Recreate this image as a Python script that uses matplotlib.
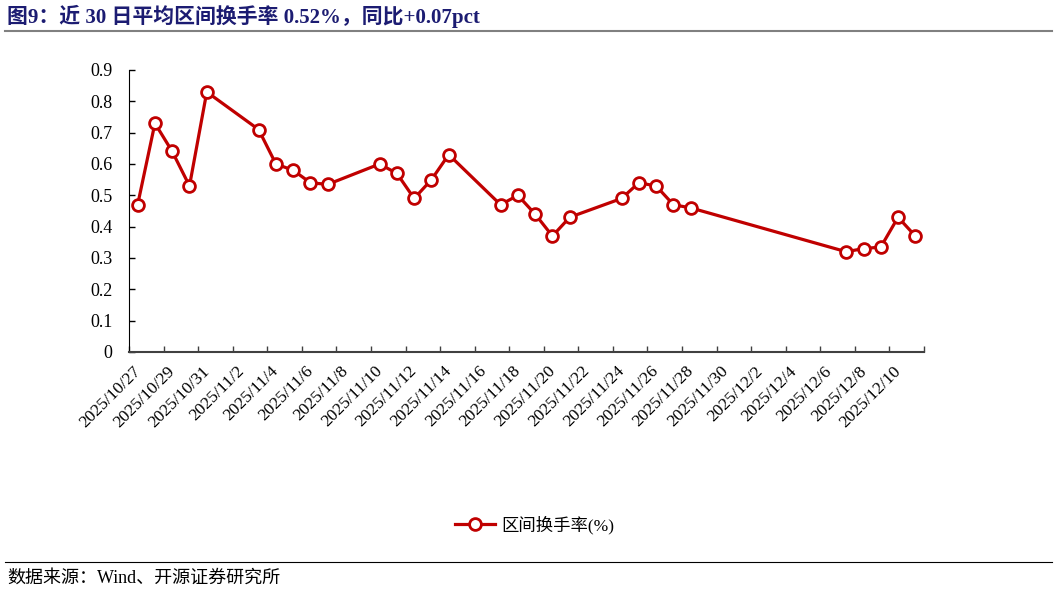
import matplotlib
matplotlib.use("Agg")
import matplotlib.pyplot as plt
import matplotlib.dates as mdates
import pandas as pd
import numpy as np

# data
dates = ["2025-10-27", "2025-10-28", "2025-10-29", "2025-10-30", "2025-10-31",
         "2025-11-03", "2025-11-04", "2025-11-05", "2025-11-06", "2025-11-07",
         "2025-11-10", "2025-11-11", "2025-11-12", "2025-11-13", "2025-11-14",
         "2025-11-17", "2025-11-18", "2025-11-19", "2025-11-20", "2025-11-21",
         "2025-11-24", "2025-11-25", "2025-11-26", "2025-11-27", "2025-11-28",
         "2025-12-07", "2025-12-08", "2025-12-09", "2025-12-10", "2025-12-11"]
turnover = [0.47, 0.73, 0.64, 0.53, 0.83,
            0.71, 0.60, 0.58, 0.54, 0.535,
            0.60, 0.57, 0.49, 0.55, 0.63,
            0.47, 0.50, 0.44, 0.37, 0.43,
            0.49, 0.54, 0.53, 0.47, 0.46,
            0.32, 0.33, 0.335, 0.43, 0.37]
series_name = "区间换手率(%)"
title = "图9：近 30 日平均区间换手率 0.52%，同比+0.07pct"
source = "数据来源：Wind、开源证券研究所"

serif = ["Liberation Serif", "Noto Sans CJK SC"]
plt.rcParams["font.family"] = serif

x = pd.to_datetime(dates)
red = "#C00000"

fig = plt.figure(figsize=(10.57, 5.92), dpi=100)
ax = fig.add_axes([129 / 1057, 1 - 352 / 592, (924 - 129) / 1057, (352 - 70) / 592])

ax.plot(x, turnover, color=red, linewidth=2.3, marker="o", markersize=8.5,
        markerfacecolor="white", markeredgecolor=red, markeredgewidth=2.0,
        label=series_name, zorder=3)

start = pd.Timestamp("2025-10-27")
end = pd.Timestamp("2025-12-11")
ax.set_xlim(mdates.date2num(start) - 0.5, mdates.date2num(end) + 0.5)
ax.set_ylim(0, 0.9)

# labels sit a touch left of the day they name, as in the original
label_days = pd.date_range(start, end, freq="2D")
ax.set_xticks(mdates.date2num(label_days) - 0.3)
ax.set_xticklabels([f"{d.year}/{d.month}/{d.day}" for d in label_days],
                   rotation=45, ha="right", va="top", rotation_mode="anchor",
                   fontsize=12.5)
edges = np.arange(mdates.date2num(start) - 0.5, mdates.date2num(end) + 0.6, 2)
ax.set_xticks(edges, minor=True)
ax.tick_params(axis="x", which="major", length=0, pad=8)
ax.tick_params(axis="x", which="minor", length=4, direction="in", width=1, color="#404040")

ax.set_yticks(np.arange(0, 0.91, 0.1))
ax.set_yticklabels(["0"] + [f"{v:.1f}" for v in np.arange(0.1, 0.91, 0.1)], fontsize=13)
ax.tick_params(axis="y", length=4, direction="in", width=1, pad=12)

for s in ["top", "right"]:
    ax.spines[s].set_visible(False)
ax.spines["left"].set_color("black")
ax.spines["bottom"].set_color("#404040")
ax.spines["bottom"].set_linewidth(1.5)

leg = fig.legend(loc="center", bbox_to_anchor=(535 / 1057, 1 - 525 / 592), frameon=False,
                 prop={"family": serif, "size": 12.5}, handlelength=2.25, handletextpad=0.4)

fig.text(7 / 1057, 1 - 16 / 592, title, color="#1C1C72", fontsize=15, fontweight="bold",
         ha="left", va="center")
fig.add_artist(plt.Line2D([5 / 1057, 1052 / 1057], [1 - 31 / 592] * 2, color="#808080", linewidth=1.5))
fig.add_artist(plt.Line2D([5 / 1057, 1052 / 1057], [1 - 562 / 592] * 2, color="black", linewidth=0.8))
fig.text(7 / 1057, 1 - 578 / 592, source, fontsize=13, ha="left", va="center")

fig.savefig("out.png", dpi=100)
